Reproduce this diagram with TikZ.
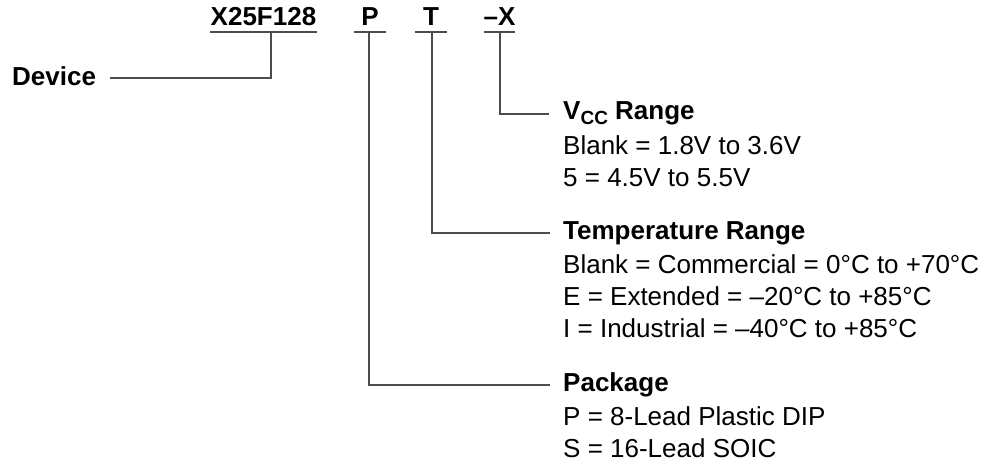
\documentclass[tikz,border=0pt]{standalone}
\usepackage{fontspec}
\setmainfont{Liberation Sans}
\begin{document}
\begin{tikzpicture}[x=1pt,y=-1pt,
  lbl/.style={font=\fontsize{26}{30}\selectfont\bfseries, inner sep=0pt, anchor=base},
  head/.style={font=\fontsize{26}{30}\selectfont\bfseries, inner sep=0pt, anchor=base west},
  body/.style={font=\fontsize{26}{30}\selectfont, inner sep=0pt, anchor=base west},
  wire/.style={draw=black!70, line width=1.1pt}]
\useasboundingbox (0,0) rectangle (990,464);
% top labels
\node[lbl] (dev) at (263.5,25) {X25F128};
\node[lbl] (pk) at (370,25) {P};
\node[lbl] (tp) at (431,25) {T};
\node[lbl] (vc) at (499.5,25) {–X};
% underlines
\coordinate (u1a) at (210,32); \coordinate (u1b) at (317,32);
\coordinate (u2a) at (354,32); \coordinate (u2b) at (386,32);
\coordinate (u3a) at (415,32); \coordinate (u3b) at (447,32);
\coordinate (u4a) at (484,32); \coordinate (u4b) at (515,32);
\draw[wire] (u1a) -- (u1b);
\draw[wire] (u2a) -- (u2b);
\draw[wire] (u3a) -- (u3b);
\draw[wire] (u4a) -- (u4b);
% device
\node[head] (devtxt) at (12,85) {Device};
\coordinate (d0) at (271,32);
\coordinate (d1) at (110,78);
\draw[wire] (d0) |- (d1);
% VCC
\coordinate (v0) at (500,32);
\coordinate (v1) at (549,114);
\draw[wire] (v0) |- (v1);
\node[head] (vh) at (563,119) {V\raisebox{-0.22em}{\fontsize{19}{19}\selectfont CC} Range};
\node[body] (v1t) at (563,154) {Blank = 1.8V to 3.6V};
\node[body] (v2t) at (563,186) {5 = 4.5V to 5.5V};
% Temperature
\coordinate (t0) at (432,32);
\coordinate (t1) at (550,233);
\draw[wire] (t0) |- (t1);
\node[head] (th) at (563,239) {Temperature Range};
\node[body] (t1t) at (563,273) {Blank = Commercial = 0°C to +70°C};
\node[body] (t2t) at (563,305) {E = Extended = –20°C to +85°C};
\node[body] (t3t) at (563,337) {I = Industrial = –40°C to +85°C};
% Package
\coordinate (p0) at (369,32);
\coordinate (p1) at (550,385);
\draw[wire] (p0) |- (p1);
\node[head] (ph) at (563,391) {Package};
\node[body] (p1t) at (563,425) {P = 8-Lead Plastic DIP};
\node[body] (p2t) at (563,457) {S = 16-Lead SOIC};
\end{tikzpicture}
\end{document}
